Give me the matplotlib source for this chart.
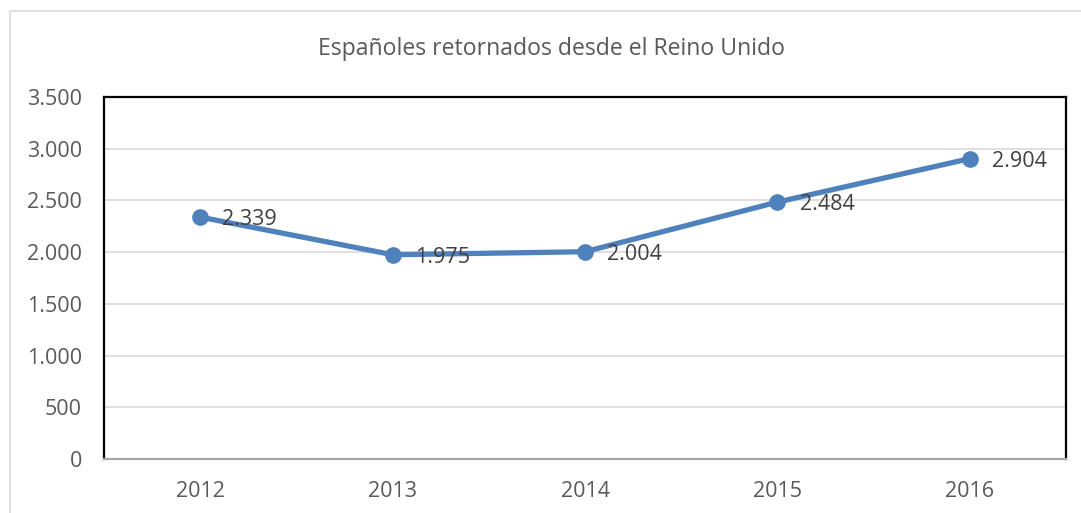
import matplotlib
matplotlib.use("Agg")
import matplotlib.pyplot as plt
from matplotlib.patches import Rectangle

years = ["2012", "2013", "2014", "2015", "2016"]
values = [2339, 1975, 2004, 2484, 2904]
yticks = [0, 500, 1000, 1500, 2000, 2500, 3000, 3500]
title = "Españoles retornados desde el Reino Unido"

def fmt(v):
    return f"{v:,}".replace(",", ".")

plt.rcParams['font.family'] = ['Open Sans', 'DejaVu Sans']

W, H = 1081, 513
fig = plt.figure(figsize=(W/100, H/100), dpi=100)
ax = fig.add_axes([104/W, 1-459/H, (1066-104)/W, (459-97)/H])

# outer chart border
fig.patches.append(Rectangle((10/W, -0.1), 1.2, 1-11/H+0.1, transform=fig.transFigure,
                             fill=False, edgecolor='#d9d9d9', linewidth=1.2))

x = list(range(len(years)))
ax.plot(x, values, color='#4F81BD', linewidth=3.8, marker='o', markersize=11,
        solid_capstyle='round', zorder=3)
for xi, v in zip(x, values):
    ax.annotate(fmt(v), (xi, v), xytext=(16, -2), textcoords='offset points',
                ha='left', va='center', fontsize=15.5, color='#404040', zorder=4)

ax.set_xlim(-0.5, len(years)-0.5)
ax.set_ylim(0, 3500)
ax.set_yticks(yticks)
ax.set_yticklabels([fmt(t) for t in yticks])
ax.set_xticks(x)
ax.set_xticklabels(years)
ax.tick_params(axis='both', length=0, labelsize=15.5, labelcolor='#595959')
ax.tick_params(axis='y', pad=16)
ax.tick_params(axis='x', pad=16)
ax.grid(axis='y', color='#d9d9d9', linewidth=1.2)
ax.set_axisbelow(True)
for s in ['top', 'left', 'right']:
    ax.spines[s].set_color('black')
    ax.spines[s].set_linewidth(1.6)
ax.spines['bottom'].set_color('#a6a6a6')
ax.spines['bottom'].set_linewidth(1.6)

fig.text(552/W, 1-49/H, title, ha='center', va='center', fontsize=16.6, color='#595959')

fig.savefig("out.png", dpi=100)
